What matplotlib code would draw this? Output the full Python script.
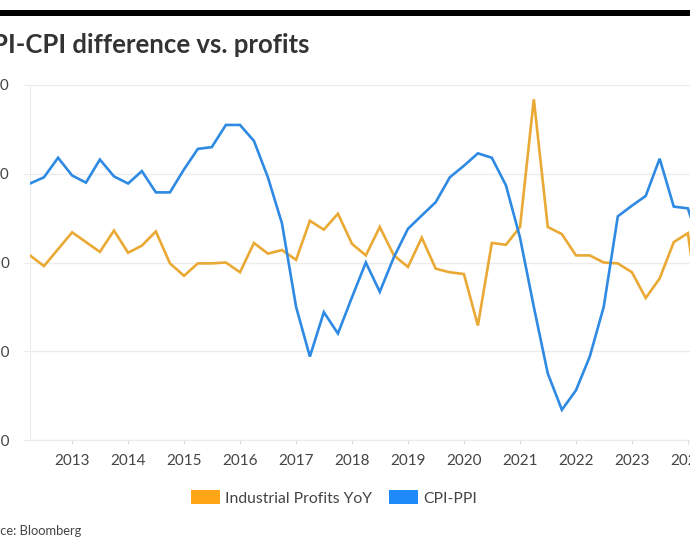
import matplotlib
matplotlib.use("Agg")
import matplotlib.pyplot as plt
from matplotlib.patches import Patch, Rectangle
import pandas as pd

plt.rcParams['font.family'] = ['Lato', 'DejaVu Sans']

# ---- data ----
dates = list(pd.date_range('2012-04-01', periods=48, freq='QS')) + [pd.Timestamp('2024-01-28')]

profits_yoy = [0.8, -0.4, 1.5, 3.4, 2.3, 1.2, 3.6, 1.1, 1.9, 3.5, -0.1, -1.5,
               -0.1, -0.1, 0.0, -1.1, 2.2, 1.0, 1.4, 0.3, 4.7, 3.7, 5.5, 2.1,
               0.8, 4.0, 0.8, -0.5, 2.8, -0.7, -1.1, -1.3, -7.1, 2.2, 2.0, 4.0,
               18.4, 4.0, 3.2, 0.8, 0.8, 0.0, -0.1, -1.1, -4.0, -1.8, 2.3, 3.3,
               0.0]

cpi_ppi = [8.9, 9.6, 11.8, 9.8, 9.0, 11.6, 9.7, 8.9, 10.3, 7.9, 7.9, 10.5,
           12.8, 13.0, 15.5, 15.5, 13.7, 9.6, 4.4, -5.0, -10.6, -5.6, -8.0, -3.9,
           0.0, -3.3, 0.6, 3.8, 5.3, 6.8, 9.6, 10.9, 12.3, 11.8, 8.7, 2.8,
           -5.0, -12.5, -16.6, -14.4, -10.6, -5.0, 5.2, 6.4, 7.5, 11.7, 6.3, 6.1,
           4.7]

y_ticks = [-20, -10, 0, 10, 20]
y_tick_labels = ['-20', '-10', '0', '10', '20']
year_ticks = list(range(2013, 2025))

title = 'PPI-CPI difference vs. profits'
source = 'Source: Bloomberg'
series_names = ['Industrial Profits YoY', 'CPI-PPI']

# ---- styling ----
W, H = 690, 550
fig = plt.figure(figsize=(W / 100, H / 100), dpi=100)
fig.patch.set_facecolor('white')

def fx(px):
    return px / W

def fy(py):
    return (H - py) / H

ax_left, ax_right, ax_top, ax_bottom = 30, 692, 85, 440
ax = fig.add_axes([fx(ax_left), fy(ax_bottom), fx(ax_right - ax_left), (ax_bottom - ax_top) / H])

line_orange = '#EAA934'
line_blue = '#2E8AE2'
box_orange = '#FFA516'
box_blue = '#1F8BFA'
grid_c = '#ECECEC'
text_c = '#444444'

ax.plot(dates, profits_yoy, color=line_orange, lw=1.9, solid_joinstyle='miter', zorder=3)
ax.plot(dates, cpi_ppi, color=line_blue, lw=1.9, solid_joinstyle='miter', zorder=3)

ax.set_ylim(-20, 20)
ax.set_xlim(pd.Timestamp('2012-04-01'), dates[-1])
ax.set_yticks(y_ticks)
ax.set_yticklabels(y_tick_labels)
ax.set_xticks([pd.Timestamp(f'{y}-01-01') for y in year_ticks])
ax.set_xticklabels([str(y) for y in year_ticks])

ax.grid(axis='y', color=grid_c, lw=1)
ax.set_axisbelow(True)
for s in ['top', 'right']:
    ax.spines[s].set_visible(False)
ax.spines['left'].set_color(grid_c)
ax.spines['bottom'].set_color(grid_c)
ax.tick_params(axis='y', length=5, color=grid_c, pad=10, labelsize=11, labelcolor=text_c)
ax.tick_params(axis='x', length=3, color='#dddddd', pad=7, labelsize=11, labelcolor=text_c)

# top black bar
fig.add_artist(Rectangle((0, fy(16)), 1, 6 / H, transform=fig.transFigure,
                         facecolor='black', edgecolor='none'))

# title (cropped on the left, as in the reference)
fig.text(fx(309), fy(53), title, ha='right', va='baseline', fontsize=18.5,
         fontweight='bold', color='#333333')

# source (cropped on the left)
fig.text(fx(81), fy(535), source, ha='right', va='baseline', fontsize=9.3, color=text_c)

# legend
handles = [Patch(facecolor=box_orange, edgecolor='none'),
           Patch(facecolor=box_blue, edgecolor='none')]
fig.legend(handles, series_names, loc='center', bbox_to_anchor=(fx(334), fy(498)),
           ncol=2, frameon=False, fontsize=11.3, labelcolor=text_c,
           handlelength=1.85, handleheight=1.0, handletextpad=0.3, columnspacing=1.1)

fig.savefig('out.png', dpi=100, facecolor='white')
